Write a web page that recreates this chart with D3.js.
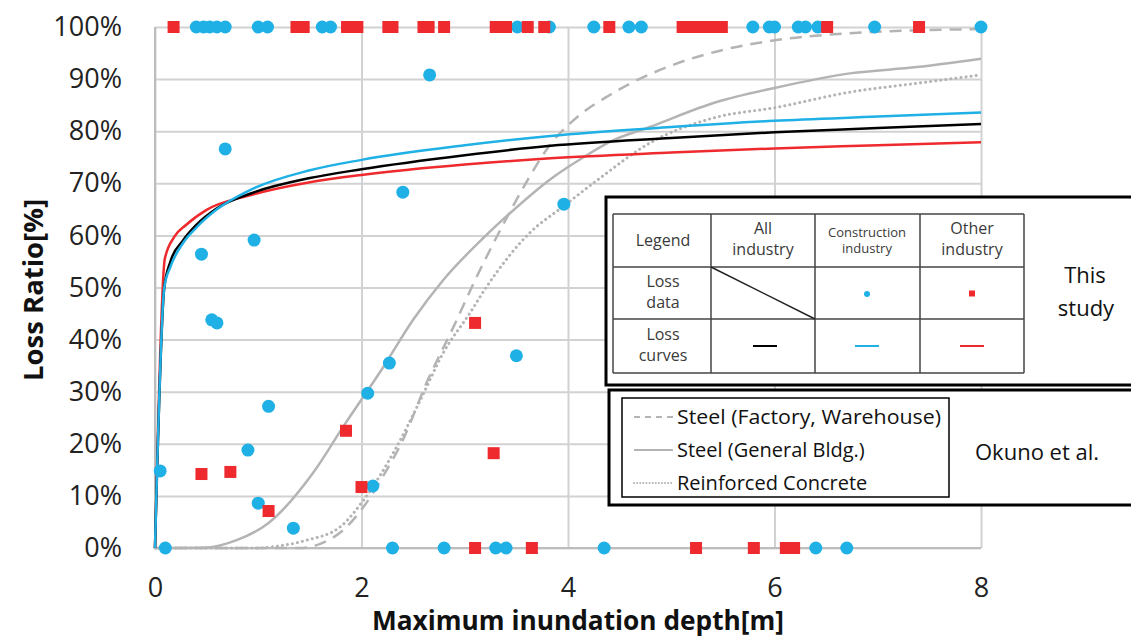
<!DOCTYPE html>
<html>
<head>
<meta charset="utf-8">
<script src="https://cdn.jsdelivr.net/npm/d3@7"></script>
<style>
  body { margin: 0; background: #fff; }
  text { font-family: "Open Sans", sans-serif; }
</style>
</head>
<body>
<div id="chart"></div>
<script>
const w = 1131;
const h = 639;

// tick labels
const xTicks = [0, 2, 4, 6, 8];
const yTicks = [0, 10, 20, 30, 40, 50, 60, 70, 80, 90, 100];

// loss data, construction industry (blue dots): depth [m], loss ratio [%]
const consDepth = [0.40, 0.47, 0.53, 0.60, 0.68, 1.00, 1.09, 1.62, 1.70, 3.51, 3.82, 4.25, 4.59, 4.71, 5.79, 5.95, 6.00, 6.23, 6.30, 6.42, 6.97, 8.00,
  0.68, 2.66, 2.40, 3.96, 0.96, 0.45, 0.55, 0.60, 3.50, 2.27, 2.06, 1.10, 0.90, 0.05, 2.11, 1.00, 1.34,
  0.10, 2.30, 2.80, 3.30, 3.40, 4.35, 6.40, 6.70];
const consRatio = [100, 100, 100, 100, 100, 100, 100, 100, 100, 100, 100, 100, 100, 100, 100, 100, 100, 100, 100, 100, 100, 100,
  76.6, 90.8, 68.3, 66.0, 59.1, 56.4, 43.8, 43.2, 36.9, 35.5, 29.7, 27.2, 18.8, 14.8, 11.9, 8.6, 3.8,
  0, 0, 0, 0, 0, 0, 0, 0];

// loss data, other industry (red squares)
const otherDepth = [0.18, 1.37, 1.44, 1.86, 1.96, 2.26, 2.30, 2.60, 2.65, 2.80, 3.30, 3.40, 3.61, 3.77, 4.40, 5.11, 5.21, 5.31, 5.40, 5.49, 6.51, 7.40,
  3.10, 1.85, 3.28, 0.45, 0.73, 2.00, 1.10,
  3.10, 3.65, 5.24, 5.80, 6.11, 6.19];
const otherRatio = [100, 100, 100, 100, 100, 100, 100, 100, 100, 100, 100, 100, 100, 100, 100, 100, 100, 100, 100, 100, 100, 100,
  43.2, 22.5, 18.2, 14.2, 14.6, 11.7, 7.1,
  0, 0, 0, 0, 0, 0];

// loss curves (this study)
const allCurveX = [0, 0.09, 0.15, 0.27, 0.4, 0.6, 0.92, 1.5, 2, 3, 3.83, 5, 6, 7, 8];
const allCurveY = [0, 50, 55, 59, 62, 65.2, 68, 71, 72.7, 75.4, 77.2, 78.7, 79.8, 80.6, 81.4];
const consCurveX = [0, 0.09, 0.15, 0.27, 0.4, 0.6, 0.92, 1.5, 2, 3, 3.83, 5, 6, 7, 8];
const consCurveY = [0, 50, 54, 58.5, 61.5, 65, 68.7, 72.5, 74.5, 77.3, 79.1, 80.8, 82, 82.8, 83.6];
const otherCurveX = [0, 0.095, 0.19, 0.3, 0.5, 0.92, 1.5, 2, 3, 3.83, 5, 6, 7, 8];
const otherCurveY = [0, 55.5, 59.8, 62, 64.9, 67.7, 70.2, 71.6, 73.6, 74.8, 75.9, 76.7, 77.3, 77.9];

// Okuno et al. curves
const factoryX = [0, 1.4, 1.6, 1.82, 2.02, 2.2, 2.4, 2.63, 2.89, 3.1, 3.41, 3.62, 3.83, 4.02, 4.47, 4.96, 5.5, 6.02, 6.73, 8];
const factoryY = [0, 0, 0.8, 3.4, 7.9, 13.5, 20.7, 31.7, 42.4, 51.4, 63.5, 71, 77.5, 81.5, 87.7, 92.3, 95.6, 97.5, 98.8, 99.6];
const generalX = [0, 0.5, 0.79, 1.1, 1.53, 1.82, 2.21, 2.5, 2.79, 3.18, 3.44, 3.83, 4.15, 4.41, 4.79, 5.44, 6, 6.73, 7.38, 8];
const generalY = [0, 0.1, 1.5, 4.8, 14.4, 23.2, 34.7, 43.8, 51.4, 59.5, 64.3, 70.8, 75, 78, 80.8, 85.6, 88.3, 91.1, 92.3, 93.9];
const rcX = [0, 1.0, 1.2, 1.47, 1.79, 2.02, 2.34, 2.57, 2.79, 3.05, 3.21, 3.63, 3.95, 4.31, 4.79, 5.44, 6, 6.73, 7.38, 8];
const rcY = [0, 0, 0.4, 1.5, 4, 9.2, 19.4, 28.4, 37.4, 45.1, 50.1, 60.5, 65.5, 71, 77.7, 82.7, 84.5, 87.5, 89.2, 90.8];

const blue = "#1fb0e6";
const red = "#ee2a2e";
const gray = "#b4b4b4";

const svg = d3.select("#chart")
  .append("svg")
  .attr("width", w)
  .attr("height", h);

const x = d3.scaleLinear().domain([0, 8]).range([155, 981]);
const y = d3.scaleLinear().domain([0, 100]).range([548, 27]);

// grid + axes
svg.append("g")
  .attr("transform", "translate(155,0)")
  .call(d3.axisLeft(y).tickValues(yTicks).tickSize(-(981 - 155)).tickPadding(33).tickFormat(d => d + "%"))
  .call(g => g.select(".domain").remove())
  .call(g => g.selectAll("line").attr("stroke", "#d2d2d2").attr("stroke-width", 2))
  .call(g => g.selectAll("text").attr("font-size", 27).attr("fill", "#222").attr("font-family", "Open Sans"));

svg.append("g")
  .attr("transform", "translate(0,548)")
  .call(d3.axisBottom(x).tickValues(xTicks).tickSize(-(548 - 27)).tickPadding(30))
  .call(g => g.select(".domain").remove())
  .call(g => g.selectAll("line").attr("stroke", "#d2d2d2").attr("stroke-width", 2))
  .call(g => g.selectAll("text").attr("font-size", 27).attr("fill", "#222").attr("font-family", "Open Sans"));

// axis lines a little darker
svg.append("line").attr("x1", x(0)).attr("x2", x(8)).attr("y1", y(0)).attr("y2", y(0))
  .attr("stroke", "#bdbdbd").attr("stroke-width", 2);
svg.append("line").attr("x1", x(0)).attr("x2", x(0)).attr("y1", y(0)).attr("y2", y(100))
  .attr("stroke", "#bdbdbd").attr("stroke-width", 2);

// axis titles
svg.append("text")
  .attr("x", 578).attr("y", 630)
  .attr("text-anchor", "middle")
  .attr("font-size", 26).attr("font-weight", "bold").attr("fill", "#111")
  .attr("textLength", 412).attr("lengthAdjust", "spacingAndGlyphs")
  .text("Maximum inundation depth[m]");

svg.append("text")
  .attr("transform", "translate(43,290) rotate(-90)")
  .attr("text-anchor", "middle")
  .attr("font-size", 26).attr("font-weight", "bold").attr("fill", "#111")
  .attr("textLength", 182).attr("lengthAdjust", "spacingAndGlyphs")
  .text("Loss Ratio[%]");

const line = d3.line()
  .x(d => x(d[0]))
  .y(d => y(d[1]))
  .curve(d3.curveMonotoneX);

const curves = [
  { xs: generalX, ys: generalY, color: gray, dash: null, width: 2.5 },
  { xs: factoryX, ys: factoryY, color: gray, dash: "12,8", width: 2.5 },
  { xs: rcX, ys: rcY, color: gray, dash: "0.1,5", width: 3 },
  { xs: otherCurveX, ys: otherCurveY, color: red, dash: null, width: 2.5 },
  { xs: allCurveX, ys: allCurveY, color: "#000", dash: null, width: 2.5 },
  { xs: consCurveX, ys: consCurveY, color: blue, dash: null, width: 2.5 }
];

svg.append("g").selectAll("path")
  .data(curves)
  .join("path")
  .attr("d", c => line(c.xs.map((v, i) => [v, c.ys[i]])))
  .attr("fill", "none")
  .attr("stroke", c => c.color)
  .attr("stroke-width", c => c.width)
  .attr("stroke-linecap", c => c.dash && c.dash.startsWith("0.1") ? "round" : "butt")
  .attr("stroke-dasharray", c => c.dash);

// points
svg.append("g").selectAll("circle")
  .data(consDepth.map((v, i) => [v, consRatio[i]]))
  .join("circle")
  .attr("cx", d => x(d[0]))
  .attr("cy", d => y(d[1]))
  .attr("r", 6.5)
  .attr("fill", blue);

svg.append("g").selectAll("rect")
  .data(otherDepth.map((v, i) => [v, otherRatio[i]]))
  .join("rect")
  .attr("x", d => x(d[0]) - 6)
  .attr("y", d => y(d[1]) - 6)
  .attr("width", 12)
  .attr("height", 12)
  .attr("fill", red);

// legend 1: this study
const lg = svg.append("g");
lg.append("rect").attr("x", 606).attr("y", 197).attr("width", 560).attr("height", 188)
  .attr("fill", "#fff").attr("stroke", "#000").attr("stroke-width", 3);

const colX = [613, 711, 815, 920, 1024];
const rowY = [214, 267, 319, 373];
const tableColor = "#444";
colX.forEach(cx => lg.append("line").attr("x1", cx).attr("x2", cx).attr("y1", rowY[0]).attr("y2", rowY[3])
  .attr("stroke", tableColor).attr("stroke-width", 1.5));
rowY.forEach(ry => lg.append("line").attr("x1", colX[0]).attr("x2", colX[4]).attr("y1", ry).attr("y2", ry)
  .attr("stroke", tableColor).attr("stroke-width", 1.5));
lg.append("line").attr("x1", colX[1]).attr("y1", rowY[1]).attr("x2", colX[2]).attr("y2", rowY[2])
  .attr("stroke", "#222").attr("stroke-width", 1.5);

const cellText = [
  { cx: 663, lines: ["Legend"], y0: 246, size: 16 },
  { cx: 763, lines: ["All", "industry"], y0: 234, size: 16 },
  { cx: 867, lines: ["Construction", "industry"], y0: 237, size: 13 },
  { cx: 972, lines: ["Other", "industry"], y0: 234, size: 16 },
  { cx: 663, lines: ["Loss", "data"], y0: 287, size: 16 },
  { cx: 663, lines: ["Loss", "curves"], y0: 340, size: 16 }
];
cellText.forEach(c => {
  c.lines.forEach((t, i) => {
    lg.append("text").attr("x", c.cx).attr("y", c.y0 + i * (c.size === 13 ? 16 : 21))
      .attr("text-anchor", "middle").attr("font-size", c.size).attr("fill", "#3a3a3a")
      .attr("font-family", "Noto Sans").text(t);
  });
});
lg.append("circle").attr("cx", 867).attr("cy", 294).attr("r", 3).attr("fill", blue);
lg.append("rect").attr("x", 969).attr("y", 290.5).attr("width", 6).attr("height", 6).attr("fill", red);
[["#000", 765], [blue, 867], [red, 972]].forEach(([c, cx]) =>
  lg.append("line").attr("x1", cx - 12).attr("x2", cx + 12).attr("y1", 346).attr("y2", 346)
    .attr("stroke", c).attr("stroke-width", 2));

lg.append("text").attr("x", 1085).attr("y", 283).attr("text-anchor", "middle")
  .attr("font-size", 22).attr("fill", "#111").text("This");
lg.append("text").attr("x", 1086).attr("y", 316).attr("text-anchor", "middle")
  .attr("font-size", 22).attr("fill", "#111").text("study");

// legend 2: Okuno et al.
const lg2 = svg.append("g");
lg2.append("rect").attr("x", 609).attr("y", 390).attr("width", 560).attr("height", 115)
  .attr("fill", "#fff").attr("stroke", "#000").attr("stroke-width", 3);
lg2.append("rect").attr("x", 622).attr("y", 398).attr("width", 327).attr("height", 99)
  .attr("fill", "#fff").attr("stroke", "#000").attr("stroke-width", 1.5);

const okunoNames = ["Steel (Factory, Warehouse)", "Steel (General Bldg.)", "Reinforced Concrete"];
const okunoDash = ["6,5", null, "0.1,3"];
okunoNames.forEach((name, i) => {
  const ly = 417 + i * 33;
  lg2.append("line").attr("x1", 634).attr("x2", 673).attr("y1", ly).attr("y2", ly)
    .attr("stroke", gray).attr("stroke-width", 2)
    .attr("stroke-linecap", okunoDash[i] && okunoDash[i].startsWith("0.1") ? "round" : "butt")
    .attr("stroke-dasharray", okunoDash[i]);
  lg2.append("text").attr("x", 677).attr("y", ly + 7)
    .attr("font-size", 20).attr("fill", "#111")
    .attr("textLength", name.length > 22 ? 264 : null).attr("lengthAdjust", "spacingAndGlyphs")
    .text(name);
});
lg2.append("text").attr("x", 975).attr("y", 460)
  .attr("font-size", 22).attr("fill", "#111").text("Okuno et al.");
</script>
</body>
</html>
